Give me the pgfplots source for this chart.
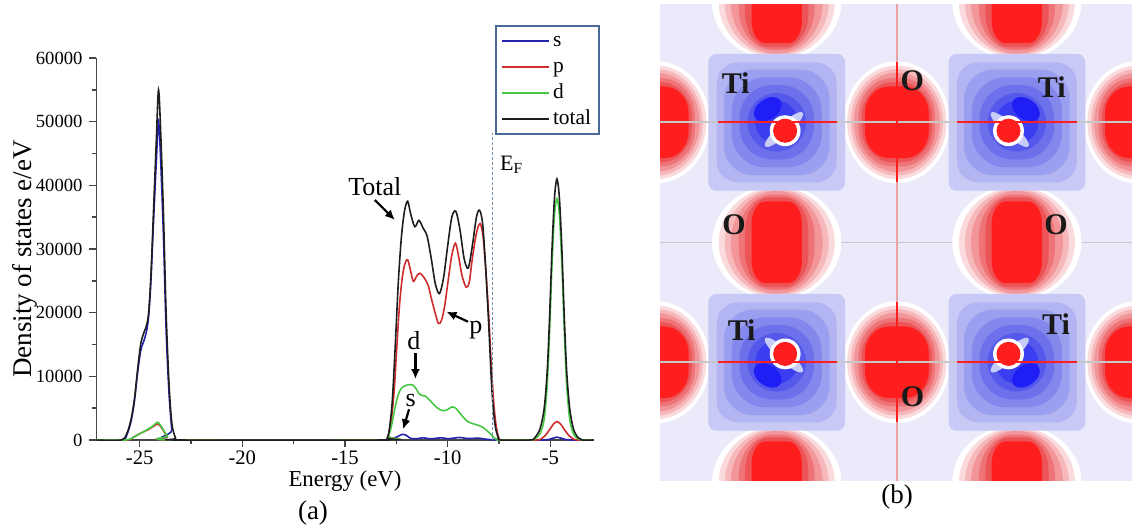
\documentclass[border=0pt]{standalone}
\usepackage{pgfplots}
\pgfplotsset{compat=1.18}
\usepackage{pgfplotstable}
\usepackage{fontspec}
\setmainfont{Liberation Serif}
\usetikzlibrary{arrows.meta}

% DOS colours
\definecolor{cs}{RGB}{35,35,175}
\definecolor{cp}{RGB}{205,45,45}
\definecolor{cd}{RGB}{70,200,70}
\definecolor{ct}{RGB}{30,30,30}
\definecolor{axgray}{RGB}{70,70,70}
\definecolor{legframe}{RGB}{75,105,150}
\definecolor{efline}{RGB}{120,145,170}
% charge density map colours
\definecolor{lav}{RGB}{234,234,250}
\definecolor{o1}{RGB}{250,218,220}
\definecolor{o2}{RGB}{246,184,187}
\definecolor{o3}{RGB}{242,150,154}
\definecolor{o4}{RGB}{238,116,120}
\definecolor{o5}{RGB}{236,84,88}
\definecolor{ored}{RGB}{255,30,30}
\definecolor{t0}{RGB}{200,202,245}
\definecolor{t1}{RGB}{178,181,242}
\definecolor{t2}{RGB}{155,159,239}
\definecolor{t3}{RGB}{132,136,236}
\definecolor{t4}{RGB}{108,112,234}
\definecolor{t5}{RGB}{84,88,235}
\definecolor{t6}{RGB}{58,62,240}
\definecolor{tdark}{RGB}{30,30,245}
\definecolor{tstreak}{RGB}{200,205,247}
\definecolor{lgray}{RGB}{200,200,200}
\definecolor{vline}{RGB}{235,165,165}

% rounded square marks: #2 = where the corner starts, #3 = bezier control (fractions of mark size)
\newcommand\declrsq[3]{%
  \pgfdeclareplotmark{#1}{%
    \pgfpathmoveto{\pgfqpoint{0pt}{-\pgfplotmarksize}}%
    \pgfpathlineto{\pgfqpoint{#2\pgfplotmarksize}{-\pgfplotmarksize}}%
    \pgfpathcurveto{\pgfqpoint{#3\pgfplotmarksize}{-\pgfplotmarksize}}{\pgfqpoint{\pgfplotmarksize}{-#3\pgfplotmarksize}}{\pgfqpoint{\pgfplotmarksize}{-#2\pgfplotmarksize}}%
    \pgfpathlineto{\pgfqpoint{\pgfplotmarksize}{#2\pgfplotmarksize}}%
    \pgfpathcurveto{\pgfqpoint{\pgfplotmarksize}{#3\pgfplotmarksize}}{\pgfqpoint{#3\pgfplotmarksize}{\pgfplotmarksize}}{\pgfqpoint{#2\pgfplotmarksize}{\pgfplotmarksize}}%
    \pgfpathlineto{\pgfqpoint{-#2\pgfplotmarksize}{\pgfplotmarksize}}%
    \pgfpathcurveto{\pgfqpoint{-#3\pgfplotmarksize}{\pgfplotmarksize}}{\pgfqpoint{-\pgfplotmarksize}{#3\pgfplotmarksize}}{\pgfqpoint{-\pgfplotmarksize}{#2\pgfplotmarksize}}%
    \pgfpathlineto{\pgfqpoint{-\pgfplotmarksize}{-#2\pgfplotmarksize}}%
    \pgfpathcurveto{\pgfqpoint{-\pgfplotmarksize}{-#3\pgfplotmarksize}}{\pgfqpoint{-#3\pgfplotmarksize}{-\pgfplotmarksize}}{\pgfqpoint{-#2\pgfplotmarksize}{-\pgfplotmarksize}}%
    \pgfpathclose
    \pgfusepathqfill}}
\declrsq{rsqa}{0.88}{0.946}
\declrsq{rsqb}{0.65}{0.843}
\declrsq{rsqc}{0.45}{0.754}
\declrsq{rsqd}{0.25}{0.664}
\declrsq{rsqe}{0.12}{0.606}

% site positions (map units, v pointing down)
\pgfplotstableread{
u v
0 -1
2 -1
0 1
2 1
0 3
2 3
}\OA
\pgfplotstableread{
u v
-1 0
1 0
3 0
-1 2
1 2
3 2
}\OB
\pgfplotstableread{
u v
0 0
2 0
0 2
2 2
}\TI

\newcommand\ring[5]{\addplot[only marks, mark=#1, color=#4, mark size=#2pt, mark options={yscale=#3}] table[x=u,y=v] {#5};}

\begin{document}
\begin{tikzpicture}
\path[use as bounding box] (0,0) rectangle (566pt,263.5pt);

% ---------------- (a) density of states ----------------
\begin{axis}[
  at={(48.25pt,43.5pt)}, anchor=south west, scale only axis,
  width=248.5pt, height=191pt,
  xmin=-27.1, xmax=-2.9, ymin=0, ymax=60000,
  axis x line*=bottom, axis y line*=left,
  axis line style={draw=axgray, line width=0.7pt},
  xtick={-25,-20,-15,-10,-5}, xticklabels={-25,-20,-15,-10,-5},
  minor xtick={-22.5,-17.5,-12.5,-7.5},
  ytick={0,10000,20000,30000,40000,50000,60000},
  yticklabels={0,10000,20000,30000,40000,50000,60000},
  minor ytick={5000,15000,25000,35000,45000,55000},
  scaled y ticks=false,
  tick align=outside, major tick length=3.5pt, minor tick length=2pt,
  tick style={draw=axgray, line width=0.7pt},
  xticklabel style={font=\fontsize{10.3}{12}\selectfont, yshift=1.5pt},
  yticklabel style={font=\fontsize{9.3}{11}\selectfont},
  xlabel={Energy (eV)}, ylabel={Density of states e/eV},
  xlabel style={font=\fontsize{11.4}{13}\selectfont, at={(axis description cs:0.5,-0.108)}, anchor=center},
  ylabel style={font=\fontsize{13.5}{15}\selectfont, at={(axis description cs:-0.145,0.474)}, anchor=center},
  legend style={at={(axis description cs:1.013,1.086)}, anchor=north east,
    draw=legframe, line width=0.9pt, font=\fontsize{10.7}{12}\selectfont,
    inner xsep=2.5pt, inner ysep=1pt, row sep=0pt,
    nodes={inner sep=1.5pt, text height=7.5pt, text depth=2.5pt}},
  legend cell align=left,
  legend image code/.code={\draw[#1, line width=1.1pt] (0pt,0pt) -- (23.5pt,0pt);},
]
\addplot[cs, line width=0.8pt, smooth] coordinates {
 (-27.1,0) (-25.85,0) (-25.6,1000) (-25.4,3200) (-25.25,6200) (-25.1,10500) (-24.95,14000)
 (-24.8,15500) (-24.67,17000) (-24.56,19500) (-24.45,25000) (-24.32,34500) (-24.19,43500)
 (-24.08,50000) (-23.97,43500) (-23.84,32000) (-23.71,17300) (-23.57,7400) (-23.43,1600) (-23.3,0)
 (-13.0,0) (-12.7,150) (-12.4,600) (-12.2,900) (-12.0,700) (-11.8,250) (-11.5,200) (-11.2,350)
 (-10.9,200) (-10.6,250) (-10.3,350) (-10.0,200) (-9.7,300) (-9.4,400) (-9.1,250) (-8.8,250)
 (-8.5,300) (-8.2,150) (-7.9,50) (-7.6,0)
 (-5.4,0) (-5.0,150) (-4.68,450) (-4.35,150) (-4.0,0) (-2.9,0)};
\addlegendentry{s}
\addplot[cp, line width=0.8pt, smooth] coordinates {
 (-27.1,0) (-25.6,0) (-25.3,450) (-25.05,900) (-24.8,1300) (-24.6,1600) (-24.4,2000) (-24.25,2300)
 (-24.1,2500) (-23.97,2100) (-23.83,1400) (-23.65,500) (-23.45,0)
 (-13.05,0) (-12.9,600) (-12.75,3000) (-12.6,8000) (-12.47,15000) (-12.35,21000) (-12.23,25000)
 (-12.1,27500) (-11.95,28300) (-11.8,26500) (-11.67,24900) (-11.5,25800) (-11.35,26200)
 (-11.15,25500) (-10.95,24300) (-10.8,22300) (-10.63,20200) (-10.45,18300) (-10.3,18800)
 (-10.15,21000) (-10.0,24500) (-9.8,29000) (-9.62,30900) (-9.45,28500) (-9.3,25800) (-9.1,24000)
 (-8.95,24800) (-8.8,28500) (-8.6,32500) (-8.42,34000) (-8.28,32000) (-8.15,27000) (-8.0,19500)
 (-7.88,12000) (-7.75,5500) (-7.62,1800) (-7.5,300) (-7.4,0)
 (-5.7,0) (-5.4,300) (-5.2,900) (-5.0,1800) (-4.85,2500) (-4.68,2900) (-4.5,2500) (-4.35,1800)
 (-4.15,900) (-3.95,300) (-3.7,0) (-2.9,0)};
\addlegendentry{p}
\addplot[cd, line width=0.8pt, smooth] coordinates {
 (-27.1,0) (-25.7,0) (-25.3,400) (-25.05,900) (-24.8,1300) (-24.6,1700) (-24.4,2100) (-24.25,2500)
 (-24.12,2800) (-23.98,2300) (-23.83,1500) (-23.65,600) (-23.45,0)
 (-13.05,0) (-12.9,500) (-12.75,2000) (-12.6,4500) (-12.45,6700) (-12.3,7900) (-12.15,8400)
 (-12.0,8600) (-11.85,8700) (-11.7,8650) (-11.55,8100) (-11.4,7300) (-11.25,7000) (-11.1,6900)
 (-10.95,6500) (-10.8,6000) (-10.6,5300) (-10.4,4800) (-10.2,4600) (-10.0,4800) (-9.8,5200)
 (-9.65,5100) (-9.5,4600) (-9.3,3800) (-9.1,3100) (-8.9,2700) (-8.7,2500) (-8.5,2300) (-8.3,2000)
 (-8.1,1500) (-7.9,900) (-7.75,400) (-7.6,100) (-7.5,0)
 (-6.0,0) (-5.75,200) (-5.5,1000) (-5.3,3300) (-5.15,8900) (-5.03,17800) (-4.92,27600)
 (-4.8,35300) (-4.68,37900) (-4.56,35300) (-4.44,27600) (-4.33,17800) (-4.21,8900) (-4.06,3300)
 (-3.88,1000) (-3.66,200) (-3.45,0) (-2.9,0)};
\addlegendentry{d}
\addplot[ct, line width=0.8pt, smooth] coordinates {
 (-27.1,0) (-25.9,0) (-25.6,1200) (-25.4,3500) (-25.25,6500) (-25.1,11000) (-24.95,15000)
 (-24.8,16800) (-24.67,17900) (-24.56,20000) (-24.45,25800) (-24.32,36300) (-24.19,46800)
 (-24.08,55000) (-23.97,48000) (-23.84,35500) (-23.71,20000) (-23.57,8900) (-23.43,2600)
 (-23.25,300) (-23.1,0)
 (-13.1,0) (-12.95,300) (-12.85,1500) (-12.7,6000) (-12.55,15000) (-12.4,25000) (-12.25,32000)
 (-12.1,36000) (-11.95,37500) (-11.8,35500) (-11.6,33500) (-11.4,34500) (-11.2,33300)
 (-11.0,32000) (-10.8,28500) (-10.6,24500) (-10.4,23000) (-10.2,25500) (-10.0,30500) (-9.8,35000)
 (-9.6,35900) (-9.4,33000) (-9.2,28500) (-9.0,27000) (-8.8,30500) (-8.6,35000) (-8.45,36100)
 (-8.3,34000) (-8.15,27000) (-8.0,18000) (-7.85,8000) (-7.7,2500) (-7.55,500) (-7.4,0)
 (-6.0,0) (-5.75,400) (-5.5,1800) (-5.3,5000) (-5.15,11000) (-5.03,20000) (-4.92,30000)
 (-4.8,38000) (-4.68,41000) (-4.56,38000) (-4.44,30000) (-4.33,20000) (-4.21,11000) (-4.06,5000)
 (-3.88,1800) (-3.66,400) (-3.45,0) (-2.9,0)};
\addlegendentry{total}
% Fermi level
\addplot[forget plot, efline, line width=0.6pt, dash pattern=on 1.5pt off 1pt] coordinates {(-7.83,0) (-7.83,48200)};
\node[anchor=base west, inner sep=0pt, font=\fontsize{11}{12}\selectfont] at (axis cs:-7.465,42400) {E\textsubscript{F}};
% annotations
\begin{scope}[font=\fontsize{13}{14}\selectfont, inner sep=0pt]
\node[anchor=base] at (axis cs:-13.55,38470) {Total};
\node[anchor=base] at (axis cs:-8.63,16800) {p};
\node[anchor=base] at (axis cs:-11.65,14140) {d};
\node[anchor=base] at (axis cs:-11.8,5340) {s};
\end{scope}
\begin{scope}[line width=1.1pt, -{Latex[length=5pt,width=4.5pt]}]
\draw (axis cs:-13.55,37700) -- (axis cs:-12.57,34560);
\draw (axis cs:-9.01,18580) -- (axis cs:-10.06,20150);
\draw (axis cs:-11.57,13670) -- (axis cs:-11.57,9580);
\draw (axis cs:-11.88,4820) -- (axis cs:-12.17,1680);
\end{scope}
\end{axis}

% ---------------- (b) charge density map ----------------
% the axis runs a little past the picture so that the edge sites are drawn; the scope clips it
\begin{scope}
\clip (330pt,23.5pt) rectangle (566pt,261.5pt);
\begin{axis}[
  at={(328.26pt,22.3pt)}, anchor=south west, scale only axis,
  width=240.3pt, height=240.1pt,
  xmin=-1.001, xmax=3.001, ymin=-1.001, ymax=3.001, y dir=reverse,
  axis line style={draw=none}, ticks=none,
  axis background/.style={fill=lav},
  clip marker paths=true,
]
\addplot[no marks, lgray, line width=0.7pt] coordinates {(-1,1) (3,1)};
% O sites between Ti along the vertical direction
\ring{*}{32.1}{0.888}{white}{\OA}
\ring{*}{28.8}{0.948}{o1}{\OA}
\ring{*}{25.8}{1.023}{o2}{\OA}
\ring{*}{22.8}{1.118}{o3}{\OA}
\ring{rsqe}{19.0}{1.25}{o4}{\OA}
\ring{rsqd}{15.8}{1.42}{o5}{\OA}
\ring{rsqc}{12.6}{1.62}{ored}{\OA}
% O sites between Ti along the horizontal direction
\ring{*}{26.4}{1.148}{white}{\OB}
\ring{*}{24.6}{1.146}{o1}{\OB}
\ring{*}{22.8}{1.158}{o2}{\OB}
\ring{*}{21.3}{1.155}{o3}{\OB}
\ring{rsqe}{19.2}{1.15}{o4}{\OB}
\ring{rsqe}{17.6}{1.14}{o5}{\OB}
\ring{rsqd}{16.0}{1.12}{ored}{\OB}
% Ti sites
\ring{rsqa}{34.2}{1}{t0}{\TI}
\ring{rsqb}{30.0}{1}{t1}{\TI}
\ring{rsqc}{26.4}{1}{t2}{\TI}
\ring{rsqd}{22.5}{1}{t3}{\TI}
\ring{rsqe}{18.6}{1}{t4}{\TI}
\ring{*}{14.4}{1}{t5}{\TI}
\ring{*}{10.5}{1}{t6}{\TI}
\addplot[only marks, mark=*, tdark, mark size=7.5pt, mark options={rotate=35, yscale=0.65}] coordinates {(-0.075,-0.11) (2.075,2.11)};
\addplot[only marks, mark=*, tdark, mark size=7.5pt, mark options={rotate=-35, yscale=0.65}] coordinates {(2.075,-0.11) (-0.075,2.11)};
\addplot[only marks, mark=*, tstreak, mark size=2.8pt, mark options={rotate=42, xscale=4.4}] coordinates {(0.06,0.06) (1.94,1.94)};
\addplot[only marks, mark=*, tstreak, mark size=2.8pt, mark options={rotate=-42, xscale=4.4}] coordinates {(1.94,0.06) (0.06,1.94)};
\addplot[only marks, mark=*, white, mark size=7.5pt] coordinates {(0.07,0.07) (1.93,0.07) (0.07,1.93) (1.93,1.93)};
\addplot[only marks, mark=*, ored, mark size=5.8pt] coordinates {(0.07,0.07) (1.93,0.07) (0.07,1.93) (1.93,1.93)};
% reference lines
\addplot[no marks, lgray, line width=1pt] coordinates {(-1,0) (3,0)};
\addplot[no marks, lgray, line width=1pt] coordinates {(-1,2) (3,2)};
\addplot[no marks, vline, line width=0.7pt] coordinates {(1,-1) (1,3)};
\addplot[no marks, ored, line width=1pt] coordinates {(-0.49,0) (0.5,0)};
\addplot[no marks, ored, line width=1pt] coordinates {(1.5,0) (2.5,0)};
\addplot[no marks, ored, line width=1pt] coordinates {(-0.49,2) (0.5,2)};
\addplot[no marks, ored, line width=1pt] coordinates {(1.5,2) (2.5,2)};
\addplot[no marks, ored, line width=1pt] coordinates {(1,-0.5) (1,0.5)};
\addplot[no marks, ored, line width=1pt] coordinates {(1,1.5) (1,2.5)};
% atom labels
\begin{scope}[font=\fontsize{15}{16}\selectfont\bfseries, text=black!90]
\node at (axis cs:-0.342,-0.33) {Ti};
\node at (axis cs:1.128,-0.35) {O};
\node at (axis cs:2.29,-0.294) {Ti};
\node at (axis cs:-0.356,0.856) {O};
\node at (axis cs:2.325,0.856) {O};
\node at (axis cs:-0.292,1.733) {Ti};
\node at (axis cs:2.325,1.678) {Ti};
\node at (axis cs:1.13,2.286) {O};
\end{scope}
\end{axis}
\end{scope}

\node[font=\fontsize{13.5}{15}\selectfont] at (156.5pt,7pt) {(a)};
\node[font=\fontsize{13.5}{15}\selectfont] at (448.5pt,14.75pt) {(b)};
\end{tikzpicture}
\end{document}
